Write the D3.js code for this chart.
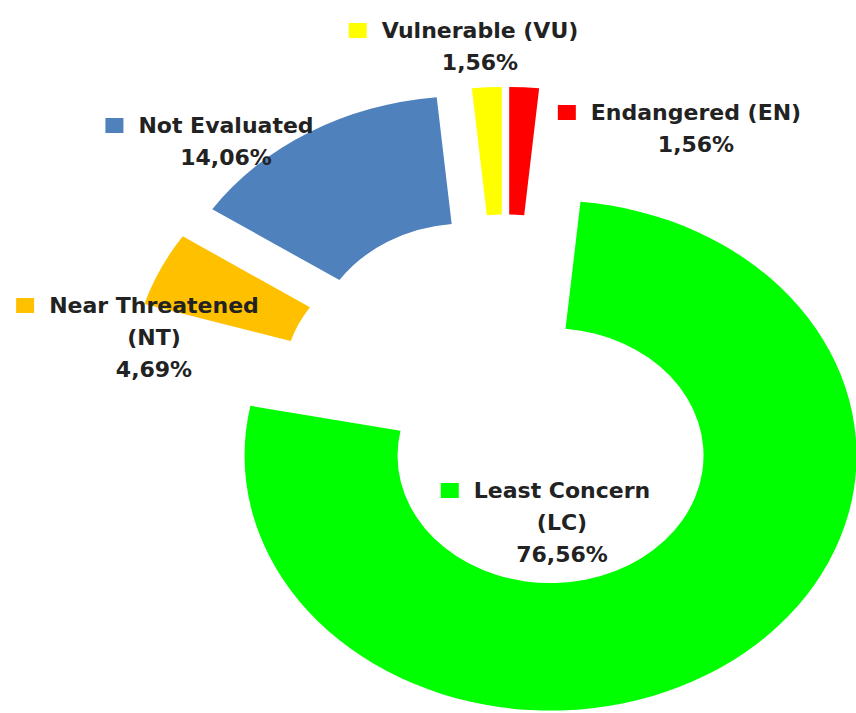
<!DOCTYPE html>
<html>
<head>
<meta charset="utf-8">
<script src="https://cdn.jsdelivr.net/npm/d3@7"></script>
<style>
  html, body { margin: 0; padding: 0; background: #ffffff; }
  svg { display: block; }
</style>
</head>
<body>
<svg id="chart" width="856" height="713"></svg>
<script>
// Conservation status of the recorded species, share of the total (%)
const categories = ["Endangered (EN)", "Least Concern (LC)", "Other", "Near Threatened (NT)", "Not Evaluated", "Vulnerable (VU)"];
const shares     = [1.56, 76.56, 1.56, 4.69, 14.06, 1.56];
// slice fills; the unlabelled remainder is left empty
const fills      = ["#ff0000", "#00ff00", null, "#ffc000", "#4f81bd", "#ffff00"];

// label placement (centre of the text block, first baseline) and line wrapping
const labelLayout = {
  "Endangered (EN)":      { x: 696, y: 120, wrap: false },
  "Least Concern (LC)":   { x: 562, y: 498, wrap: true  },
  "Near Threatened (NT)": { x: 154, y: 313, wrap: true  },
  "Not Evaluated":        { x: 226, y: 133, wrap: false },
  "Vulnerable (VU)":      { x: 480, y: 38,  wrap: false }
};

const rows = categories.map((c, i) => ({ category: c, share: shares[i], fill: fills[i] }));

const svg = d3.select("#chart");
const cx = 505.5, cy = 405;      // ring centre
const stretchX = 1.2;            // horizontal stretch of the ring
const R = 255;                   // outer radius
const hole = 0.5;                // inner radius as a fraction of R
const explode = 63;              // distance each slice is pulled out

const pie = d3.pie().sort(null).value(d => d.share).startAngle(0).endAngle(2 * Math.PI);
const arc = d3.arc().innerRadius(R * hole).outerRadius(R);
const slices = pie(rows);

const ring = svg.append("g")
  .attr("transform", `translate(${cx},${cy}) scale(${stretchX},1)`);

ring.selectAll("path.slice")
  .data(slices.filter(d => d.data.fill))
  .join("path")
  .attr("class", "slice")
  .attr("transform", d => {
    const a = (d.startAngle + d.endAngle) / 2;
    return `translate(${Math.sin(a) * explode},${-Math.cos(a) * explode})`;
  })
  .attr("d", arc)
  .attr("fill", d => d.data.fill);

// percentages written with a decimal comma
const fmt = d3.formatLocale({ decimal: ",", thousands: ".", grouping: [3], currency: ["", "%"] }).format(".2f");

const lineGap = 32;
const labels = svg.append("g")
  .attr("font-family", "'DejaVu Sans', sans-serif")
  .attr("font-weight", "bold")
  .attr("font-size", 22)
  .attr("fill", "#222222");

rows.filter(r => labelLayout[r.category]).forEach(r => {
  const L = labelLayout[r.category];
  let lines;
  if (L.wrap) {
    const k = r.category.indexOf(" (");
    lines = [r.category.slice(0, k), r.category.slice(k + 1)];
  } else {
    lines = [r.category];
  }
  lines.push(fmt(r.share) + "%");

  const texts = labels.selectAll(null)
    .data(lines)
    .join("text")
    .attr("x", L.x)
    .attr("y", (d, i) => L.y + i * lineGap)
    .attr("text-anchor", "middle")
    .text(d => d);

  const w = texts.nodes()[0].getComputedTextLength();
  labels.append("rect")
    .attr("x", L.x - w / 2 - 15 - 18)
    .attr("y", L.y - 15)
    .attr("width", 18)
    .attr("height", 15)
    .attr("fill", r.fill);
});
</script>
</body>
</html>
